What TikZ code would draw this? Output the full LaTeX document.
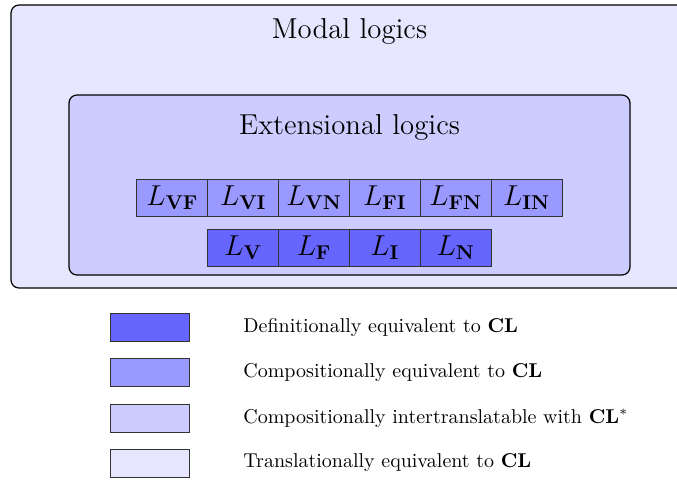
\documentclass[tikz,border=0pt]{standalone}
\begin{document}
\begin{tikzpicture}[x=0.5pt,y=-0.5pt,
  cell/.style={draw=black!80, line width=0.5pt, minimum width=35.42pt, minimum height=18.5pt, inner sep=0pt, font=\Large},
  swatch/.style={draw=black!80, line width=0.5pt, minimum width=39.5pt, minimum height=14pt, inner sep=0pt},
  legtext/.style={anchor=west, inner sep=0pt},
  region/.style={draw=black, line width=0.6pt, rounded corners=4pt}]
\useasboundingbox (0,0) rectangle (677,479);
\clip (0,0) rectangle (677,479);
\definecolor{cA}{RGB}{102,102,255}
\definecolor{cB}{RGB}{153,153,255}
\definecolor{cC}{RGB}{204,204,255}
\definecolor{cD}{RGB}{230,230,255}
\fill[white] (0,0) rectangle (677,479);
\draw[region, fill=cD] (11,5) rectangle (700,288);
\node[font=\Large] (modal) at (349.5,31) {Modal logics};
\draw[region, fill=cC] (69,95) rectangle (630,275);
\node[font=\Large] (ext) at (349.5,127) {Extensional logics};
% top row
\node[cell, fill=cB] (vf)  at (172.4,197.5) {$L_{\mathbf{VF}}$};
\node[cell, fill=cB] (vi)  at (243.3,197.5) {$L_{\mathbf{VI}}$};
\node[cell, fill=cB] (vn)  at (314.1,197.5) {$L_{\mathbf{VN}}$};
\node[cell, fill=cB] (fi)  at (384.9,197.5) {$L_{\mathbf{FI}}$};
\node[cell, fill=cB] (fn)  at (455.8,197.5) {$L_{\mathbf{FN}}$};
\node[cell, fill=cB] (inn) at (526.6,197.5) {$L_{\mathbf{IN}}$};
% bottom row
\node[cell, fill=cA] (v) at (243.3,247.5) {$L_{\mathbf{V}}$};
\node[cell, fill=cA] (f) at (314.1,247.5) {$L_{\mathbf{F}}$};
\node[cell, fill=cA] (i) at (384.9,247.5) {$L_{\mathbf{I}}$};
\node[cell, fill=cA] (n) at (455.8,247.5) {$L_{\mathbf{N}}$};
% legend
\node[swatch, fill=cA] (s1) at (150.5,327) {};
\node[swatch, fill=cB] (s2) at (150.5,372) {};
\node[swatch, fill=cC] (s3) at (150.5,418) {};
\node[swatch, fill=cD] (s4) at (150.5,463) {};
\node[legtext] (t1) at (243,327) {Definitionally equivalent to \textbf{CL}};
\node[legtext] (t2) at (243,372) {Compositionally equivalent to \textbf{CL}};
\node[legtext] (t3) at (243,418) {Compositionally intertranslatable with \textbf{CL}$^{*}$};
\node[legtext] (t4) at (243,463) {Translationally equivalent to \textbf{CL}};
\end{tikzpicture}
\end{document}
